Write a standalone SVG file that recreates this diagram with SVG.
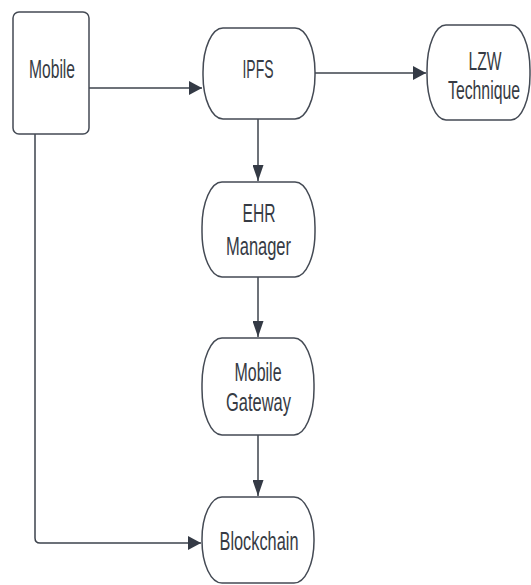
<svg xmlns="http://www.w3.org/2000/svg" width="531" height="585" viewBox="0 0 531 585">
<style>
.node{fill:#ffffff;stroke:#444a54;stroke-width:1.5}
.lbl{font-family:"Liberation Sans",Arial,sans-serif;font-size:26px;fill:#363b44;text-anchor:middle}
.sm{font-size:25px}
.edge{fill:none;stroke:#3d434d;stroke-width:1.5}
</style>
<defs>
<marker id="arrH" markerUnits="userSpaceOnUse" markerWidth="14" markerHeight="14" refX="13" refY="7" orient="auto">
<path d="M0,0 L13,7 L0,14 z" fill="#343a45"/>
</marker>
<marker id="arrV" markerUnits="userSpaceOnUse" markerWidth="17" markerHeight="11" refX="16" refY="5.5" orient="auto">
<path d="M0,0 L16,5.5 L0,11 z" fill="#343a45"/>
</marker>
</defs>
<rect width="531" height="585" fill="#ffffff"/>
<g id="connectors">
<path class="edge" d="M89,88 H202" marker-end="url(#arrH)"/>
<path class="edge" d="M315,73 H426" marker-end="url(#arrH)"/>
<path class="edge" d="M258,119 V181" marker-end="url(#arrV)"/>
<path class="edge" d="M258,277 V337" marker-end="url(#arrV)"/>
<path class="edge" d="M258,435 V496" marker-end="url(#arrV)"/>
<path class="edge" d="M35,134 V538 Q35,543 40,543 H201" marker-end="url(#arrH)"/>
</g>
<g id="mobile">
<rect class="node" x="13" y="12" width="76" height="122" rx="6" ry="6"/>
<text class="lbl" x="52" y="78" textLength="46" lengthAdjust="spacingAndGlyphs">Mobile</text>
</g>
<g id="ipfs">
<rect class="node" x="203" y="28" width="112" height="91" rx="20" ry="44"/>
<text class="lbl" x="258" y="78" textLength="31" lengthAdjust="spacingAndGlyphs">IPFS</text>
</g>
<g id="lzw">
<rect class="node" x="427" y="25" width="103" height="95" rx="19" ry="45"/>
<text class="lbl sm" x="485" y="70" textLength="33" lengthAdjust="spacingAndGlyphs">LZW</text>
<text class="lbl sm" x="484" y="99" textLength="72" lengthAdjust="spacingAndGlyphs">Technique</text>
</g>
<g id="ehr">
<rect class="node" x="202" y="182" width="113" height="95" rx="20" ry="45"/>
<text class="lbl" x="259" y="222" textLength="33" lengthAdjust="spacingAndGlyphs">EHR</text>
<text class="lbl" x="258.5" y="255" textLength="65" lengthAdjust="spacingAndGlyphs">Manager</text>
</g>
<g id="gateway">
<rect class="node" x="202" y="338" width="112" height="97" rx="20" ry="46"/>
<text class="lbl" x="258" y="381" textLength="47" lengthAdjust="spacingAndGlyphs">Mobile</text>
<text class="lbl" x="258.5" y="411" textLength="65" lengthAdjust="spacingAndGlyphs">Gateway</text>
</g>
<g id="blockchain">
<rect class="node" x="202" y="497" width="112" height="86" rx="20" ry="42"/>
<text class="lbl" x="259" y="550" textLength="79" lengthAdjust="spacingAndGlyphs">Blockchain</text>
</g>
</svg>
